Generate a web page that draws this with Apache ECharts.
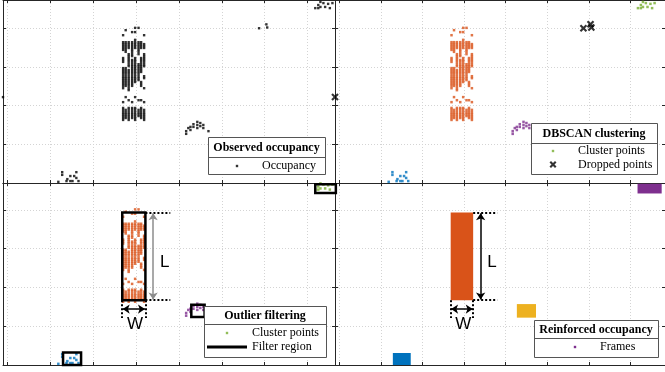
<!DOCTYPE html>
<html>
<head>
<meta charset="utf-8">
<script src="https://cdn.jsdelivr.net/npm/echarts@6/dist/echarts.min.js"></script>
<style>
  html, body { margin: 0; padding: 0; background: #fff; }
  #chart { width: 665px; height: 372px; }
</style>
</head>
<body>
<div id="chart"></div>
<script>
// occupancy grid: column x positions and the y cells that were hit in each column
const occCols = [2.70, 2.76, 2.83, 2.91, 2.98, 3.06, 3.12, 3.19];
const occRows = [
  [3.82, 3.64, 3.59, 3.54, 3.49, 3.44, 3.23, 3.18, 3.13, 2.97, 2.92, 2.87, 2.82, 2.76, 2.71, 2.66, 2.61, 2.56, 2.51, 2.45, 2.09, 1.94, 1.89, 1.83, 1.78, 1.73, 1.68, 1.63],
  [3.95, 3.64, 3.59, 3.54, 3.49, 3.44, 3.39, 2.97, 2.92, 2.87, 2.82, 2.76, 2.71, 2.66, 2.61, 2.56, 2.51, 2.22, 1.89, 1.83, 1.78, 1.73, 1.68],
  [3.64, 3.59, 3.54, 3.49, 3.33, 3.28, 3.23, 3.18, 3.13, 3.07, 3.02, 2.92, 2.87, 2.82, 2.76, 2.71, 2.66, 2.61, 2.56, 2.51, 2.45, 2.40, 2.14, 1.94, 1.89, 1.83, 1.78, 1.73, 1.68, 1.63],
  [3.90, 3.64, 3.59, 3.54, 3.49, 3.44, 3.39, 3.33, 3.28, 3.18, 3.13, 3.07, 3.02, 2.97, 2.92, 2.87, 2.82, 2.76, 2.71, 2.66, 2.61, 2.56, 2.51, 2.09, 1.94, 1.89, 1.83, 1.78, 1.73, 1.68],
  [4.01, 3.90, 3.70, 3.64, 3.59, 3.54, 3.49, 3.23, 3.18, 3.13, 3.07, 3.02, 2.97, 2.92, 2.87, 2.82, 2.76, 2.71, 2.66, 2.61, 2.22, 1.94, 1.89, 1.83, 1.78, 1.73, 1.68, 1.63],
  [4.01, 3.64, 3.59, 3.54, 3.49, 3.44, 3.39, 3.33, 3.07, 3.02, 2.97, 2.92, 2.87, 2.82, 2.76, 2.71, 2.66, 2.14, 1.89, 1.83, 1.78, 1.73],
  [3.64, 3.59, 3.54, 3.49, 3.23, 3.18, 3.13, 3.07, 3.02, 2.97, 2.92, 2.87, 2.61, 2.56, 2.51, 2.14, 1.94, 1.89, 1.83, 1.78, 1.73, 1.68],
  [3.82, 3.59, 3.54, 3.49, 3.33, 3.28, 3.23, 3.18, 3.13, 3.07, 3.02, 2.76, 2.71, 2.45, 2.09, 1.89, 1.83, 1.78, 1.73, 1.68, 1.63]
];
const clusterA = [[1.19, 0.03], [1.28, 0.28], [1.28, 0.21], [1.38, 0.05], [1.40, 0.10], [1.47, 0.18], [1.47, 0.05], [1.52, 0.05], [1.56, 0.18], [1.61, 0.28], [1.61, 0.13], [1.66, 0.05]];
const clusterB = [[4.17, 1.27], [4.17, 1.34], [4.22, 1.42], [4.27, 1.45], [4.27, 1.37], [4.34, 1.52], [4.34, 1.45], [4.43, 1.58], [4.43, 1.50], [4.43, 1.42], [4.50, 1.55], [4.50, 1.47], [4.57, 1.50], [4.57, 1.42], [4.69, 1.34]];
const clusterC = [[7.18, 4.52], [7.25, 4.60], [7.25, 4.52], [7.30, 4.68], [7.30, 4.55], [7.37, 4.65], [7.41, 4.55], [7.48, 4.63], [7.52, 4.52], [7.58, 4.65]];
const dropped = [[-0.10, 2.22], [5.87, 4.00], [6.04, 4.10], [6.06, 4.02]];
// filter regions and reinforced frames: [x0, y0, x1, y1]
const filterBoxes = [[2.68, 1.67, 3.22, 3.93], [1.30, 0.00, 1.72, 0.32], [4.29, 1.24, 4.60, 1.55], [7.18, 4.43, 7.66, 4.66]];
const frameRects = [[1.29, 0.00, 1.72, 0.31], [2.68, 1.67, 3.22, 3.93], [4.27, 1.22, 4.73, 1.57], [7.17, 4.42, 7.75, 4.67]];
const frameColors = ['#0072BD', '#D95319', '#EDB120', '#7E2F8E'];
const clusterColors = ['#0072BD', '#D95319', '#7E2F8E', '#77AC30'];
// L / W dimension marks
const lenArrow = [[3.40, 1.69], [3.40, 3.91]];
const lenGuides = [[[3.22, 3.93], [3.80, 3.93]], [[3.22, 1.67], [3.80, 1.67]]];
const widArrow = [[2.69, 1.44], [3.21, 1.44]];
const widGuides = [[[2.68, 1.67], [2.68, 1.21]], [[3.22, 1.67], [3.22, 1.21]]];
const dimLabels = [['L', 3.67, 2.64], ['W', 2.98, 1.05]];

const occupied = occCols.flatMap((x, i) => occRows[i].map(y => [x, y]));
const clusters = [clusterA, occupied, clusterB, clusterC];

const serif = 'Liberation Serif';
const grids = [
  { left: 3, top: 0, width: 332, height: 183 },
  { left: 335, top: 0, width: 340, height: 183 },
  { left: 3, top: 183, width: 332, height: 182 },
  { left: 335, top: 183, width: 340, height: 182 }
];
const xMax = [7.64, 7.83, 7.64, 7.83];
const yMax = [4.73, 4.73, 4.69, 4.69];

const xAxis = [], yAxis = [];
grids.forEach((g, i) => {
  ['bottom', 'top'].forEach((pos, k) => {
    xAxis.push({
      type: 'value', gridIndex: i, position: pos, min: -0.1, max: xMax[i], splitNumber: 8,
      axisLine: { show: true, onZero: false, lineStyle: { color: '#262626', width: 1 } },
      axisTick: { show: true, inside: true, length: 3, lineStyle: { color: '#262626' } },
      axisLabel: { show: false },
      splitLine: { show: k === 0, lineStyle: { type: [1, 2], color: '#d4d4d4' } }
    });
  });
  ['left', 'right'].forEach((pos, k) => {
    yAxis.push({
      type: 'value', gridIndex: i, position: pos, min: 0, max: yMax[i], splitNumber: 5,
      axisLine: { show: true, onZero: false, lineStyle: { color: '#262626', width: 1 } },
      axisTick: { show: true, inside: true, length: 3, lineStyle: { color: '#262626' } },
      axisLabel: { show: false },
      splitLine: { show: k === 0, lineStyle: { type: [1, 2], color: '#d4d4d4' } }
    });
  });
});

function dots(name, data, color, g, size) {
  return {
    name, type: 'scatter', xAxisIndex: g * 2, yAxisIndex: g * 2, data,
    symbol: 'rect', symbolSize: size || 2.5, clip: false, silent: true,
    itemStyle: { color }, z: 3
  };
}

function dimMarks(arrowColorL) {
  const guide = (a, b) => [{ coord: a }, { coord: b }];
  return {
    markLine: {
      silent: true, animation: false, symbol: 'none', label: { show: false },
      lineStyle: { type: [2, 2], color: '#000', width: 2 },
      emphasis: { disabled: true },
      data: [
        ...lenGuides.map(p => guide(p[0], p[1])),
        ...widGuides.map(p => guide(p[0], p[1])),
        [{ coord: lenArrow[0], symbol: 'arrow', symbolSize: 7, lineStyle: { type: 'solid', width: 1.5, color: arrowColorL } },
         { coord: lenArrow[1], symbol: 'arrow', symbolSize: 7 }],
        [{ coord: widArrow[0], symbol: 'arrow', symbolSize: 7, lineStyle: { type: 'solid', width: 1.5, color: '#000' } },
         { coord: widArrow[1], symbol: 'arrow', symbolSize: 7 }]
      ]
    },
    markPoint: {
      silent: true, animation: false, symbol: 'circle', symbolSize: 0,
      label: { show: true, position: 'inside', formatter: '{b}', fontFamily: 'Liberation Sans', fontSize: 17, color: '#000' },
      data: dimLabels.map(d => ({ name: d[0], coord: [d[1], d[2]] }))
    }
  };
}

const series = [
  dots('Occupancy', [...occupied, ...clusterA, ...clusterB, ...clusterC, ...dropped], '#000', 0, 2.4),
  ...clusters.map((c, k) => dots('Cluster points', c, clusterColors[k], 1)),
  {
    name: 'Dropped points', type: 'scatter', xAxisIndex: 2, yAxisIndex: 2, data: dropped,
    symbol: 'path://M0,2L2,0L5,3L8,0L10,2L7,5L10,8L8,10L5,7L2,10L0,8L3,5Z', symbolSize: 7.5,
    clip: false, silent: true, itemStyle: { color: '#000' }, z: 4
  },
  ...clusters.map((c, k) => dots('Cluster points', c, clusterColors[k], 2)),
  Object.assign({
    name: 'Filter region', type: 'custom', xAxisIndex: 4, yAxisIndex: 4, data: filterBoxes,
    encode: { x: [0, 2], y: [1, 3] }, silent: true, clip: false, z: 5,
    renderItem(params, api) {
      const p0 = api.coord([api.value(0), api.value(1)]);
      const p1 = api.coord([api.value(2), api.value(3)]);
      return { type: 'rect', shape: { x: p0[0], y: p1[1], width: p1[0] - p0[0], height: p0[1] - p1[1] },
        style: { fill: 'none', stroke: '#000', lineWidth: 2.5 } };
    }
  }, dimMarks('#8c8c8c')),
  Object.assign({
    name: 'Frames', type: 'custom', xAxisIndex: 6, yAxisIndex: 6, data: frameRects,
    encode: { x: [0, 2], y: [1, 3] }, silent: true, clip: false, z: 3,
    renderItem(params, api) {
      const p0 = api.coord([api.value(0), api.value(1)]);
      const p1 = api.coord([api.value(2), api.value(3)]);
      return { type: 'rect', shape: { x: p0[0], y: p1[1], width: p1[0] - p0[0], height: p0[1] - p1[1] },
        style: { fill: frameColors[params.dataIndex] } };
    }
  }, dimMarks('#000'))
];

const dotIcon = 'path://M0,0M40,12M18.8,4.8h2.4v2.4h-2.4z';
const crossIcon = 'path://M0,0M40,12M16.5,3.5l1.5,-1.5l2,2l2,-2l1.5,1.5l-2,2l2,2l-1.5,1.5l-2,-2l-2,2l-1.5,-1.5l2,-2z';
const lineIcon = 'path://M0,0M40,12M0,4.6h40v2.8h-40z';

function legendBlock(left, top, items) {
  return {
    left, top, orient: 'vertical', padding: 0, itemWidth: 40, itemHeight: 12, itemGap: 2,
    selectedMode: false, z: 20,
    textStyle: { fontFamily: serif, fontSize: 12, color: '#000', lineHeight: 12 },
    data: items.map(([name, icon, color]) => ({ name, icon, itemStyle: { color } }))
  };
}

function legendFrame(x, y, w, h, divY, title) {
  return [
    { type: 'rect', z: 15, shape: { x: x + 0.5, y: y + 0.5, width: w, height: h }, style: { fill: '#fff', stroke: '#555', lineWidth: 1 } },
    { type: 'line', z: 16, shape: { x1: x, y1: divY + 0.5, x2: x + w, y2: divY + 0.5 }, style: { stroke: '#555', lineWidth: 1 } },
    { type: 'text', z: 16, style: { text: title, x: x + w / 2, y: (y + divY) / 2 + 1, align: 'center', verticalAlign: 'middle',
      font: 'bold 12px "Liberation Serif"', fill: '#000' } }
  ];
}

const chart = echarts.init(document.getElementById('chart'), null, { renderer: 'canvas' });
chart.setOption({
  animation: false,
  grid: grids,
  xAxis, yAxis,
  series,
  legend: [
    legendBlock(217, 160, [['Occupancy', dotIcon, '#000']]),
    legendBlock(533, 145, [['Cluster points', dotIcon, '#77AC30'], ['Dropped points', crossIcon, '#000']]),
    legendBlock(207, 327, [['Cluster points', dotIcon, '#77AC30'], ['Filter region', lineIcon, '#000']]),
    legendBlock(555, 341, [['Frames', dotIcon, '#7E2F8E']])
  ],
  graphic: [
    ...legendFrame(208, 137, 117, 37, 157, 'Observed occupancy'),
    ...legendFrame(531, 123, 126, 51, 143, 'DBSCAN clustering'),
    ...legendFrame(204, 306, 122, 51, 324, 'Outlier filtering'),
    ...legendFrame(534, 320, 124, 37, 338, 'Reinforced occupancy')
  ]
});
</script>
</body>
</html>
